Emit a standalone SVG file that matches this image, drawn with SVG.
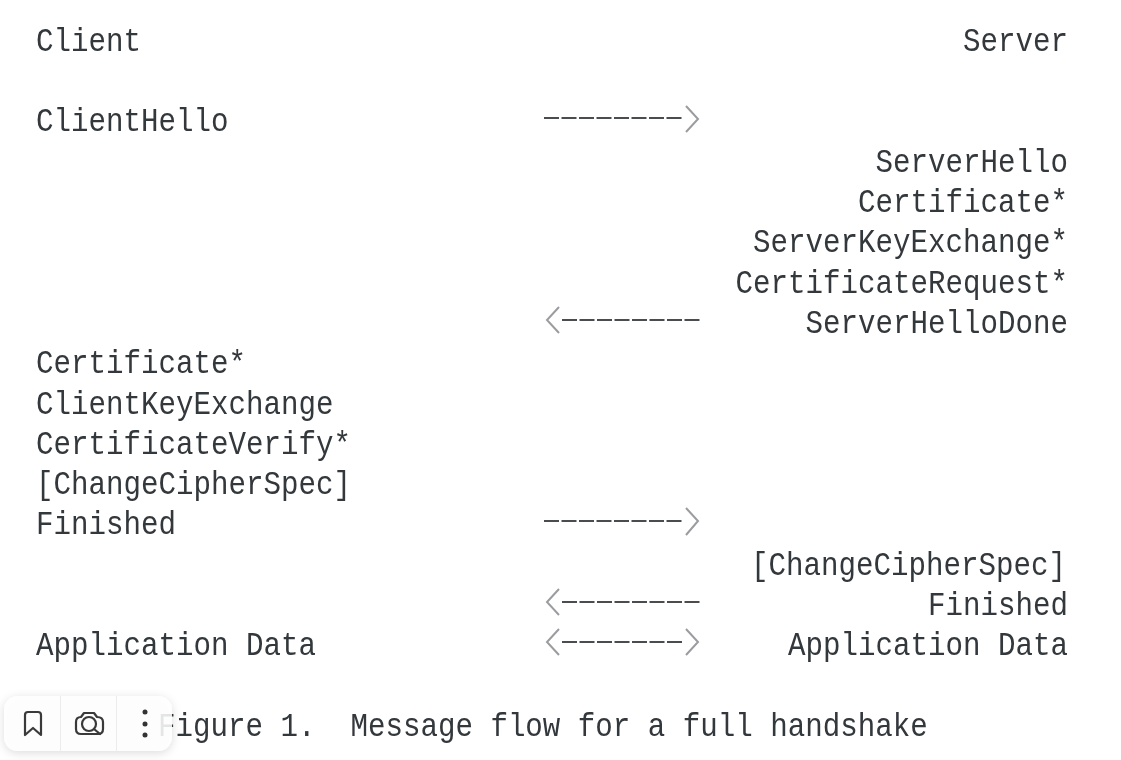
<svg xmlns="http://www.w3.org/2000/svg" width="1121" height="760" viewBox="0 0 1121 760">
<style>
text{font-family:"Liberation Mono","DejaVu Sans Mono",monospace;font-size:34px;fill:#33373b;white-space:pre}
.r{text-anchor:end}
.dash{fill:none;stroke:#4a4d50;stroke-width:2;stroke-dasharray:15 2.5}
.head{fill:none;stroke:#9a9c9f;stroke-width:2}
.ico{fill:none;stroke:#3a3a3a;stroke-width:2.2;stroke-linejoin:round;stroke-linecap:round}
</style>
<defs>
<filter id="soft" x="-5%" y="-5%" width="110%" height="110%"><feGaussianBlur stdDeviation="0.45"/></filter>
<filter id="sh" x="-20%" y="-40%" width="140%" height="180%"><feDropShadow dx="0" dy="2" stdDeviation="5" flood-color="#000" flood-opacity="0.16"/></filter>
</defs>
<rect width="1121" height="760" fill="#fff"/>
<g id="labels" filter="url(#soft)">
<g id="client-column">
<text transform="translate(36,50.500) scale(.858,1)">Client</text>
<text transform="translate(36,131) scale(.858,1)">ClientHello</text>
<text transform="translate(36,372.500) scale(.858,1)">Certificate*</text>
<text transform="translate(36,413.500) scale(.858,1)">ClientKeyExchange</text>
<text transform="translate(36,453.500) scale(.858,1)">CertificateVerify*</text>
<text transform="translate(36,493.500) scale(.858,1)">[ChangeCipherSpec]</text>
<text transform="translate(36,533.500) scale(.858,1)">Finished</text>
<text transform="translate(36,654.500) scale(.858,1)">Application Data</text>
</g>
<g id="server-column">
<text class="r" transform="translate(1068,50.500) scale(.858,1)">Server</text>
<text class="r" transform="translate(1068,171.500) scale(.858,1)">ServerHello</text>
<text class="r" transform="translate(1068,211.500) scale(.858,1)">Certificate*</text>
<text class="r" transform="translate(1068,251.500) scale(.858,1)">ServerKeyExchange*</text>
<text class="r" transform="translate(1068,292.500) scale(.858,1)">CertificateRequest*</text>
<text class="r" transform="translate(1068,332.500) scale(.858,1)">ServerHelloDone</text>
<text class="r" transform="translate(1066,574.500) scale(.858,1)">[ChangeCipherSpec]</text>
<text class="r" transform="translate(1068,614.500) scale(.858,1)">Finished</text>
<text class="r" transform="translate(1068,654.500) scale(.858,1)">Application Data</text>
</g>
<text id="caption" transform="translate(158,735.500) scale(.858,1)" xml:space="preserve">Figure 1.  Message flow for a full handshake</text>
</g>
<g id="connectors" filter="url(#soft)">
<g id="c1"><path class="dash" d="M544 118H684"/><path class="head" d="M686 106L698 119L686 132"/></g>
<g id="c2"><path class="dash" d="M562 320H702"/><path class="head" d="M559 307L547 320L559 333"/></g>
<g id="c3"><path class="dash" d="M544 521H684"/><path class="head" d="M686 508L698 521L686 535"/></g>
<g id="c4"><path class="dash" d="M562 602H702"/><path class="head" d="M559 589L547 602L559 615"/></g>
<g id="c5"><path class="dash" d="M562 642H684"/><path class="head" d="M559 629L547 642L559 655"/><path class="head" d="M686 629L698 642L686 655"/></g>
</g>
<g id="toolbar">
<rect x="4" y="696" width="168" height="55" rx="14" fill="#fff" fill-opacity="0.86" filter="url(#sh)"/>
<path d="M60.500 696V751M116.500 696V751" stroke="#ececec" stroke-width="1"/>
<path class="ico" d="M25 715Q25 712 28 712H38Q41 712 41 715V735L33 728L25 735Z"/>
<path class="ico" d="M81 717L84 713H94L97 717Q103 717 103 722V729Q103 734 98 734H81Q76 734 76 729V722Q76 717 81 717Z"/>
<circle class="ico" cx="89" cy="724" r="7"/>
<path class="ico" d="M94 729L100 734"/>
<circle cx="145" cy="712" r="2.500" fill="#333"/>
<circle cx="145" cy="724" r="2.500" fill="#333"/>
<circle cx="145" cy="735" r="2.500" fill="#333"/>
</g>
</svg>
